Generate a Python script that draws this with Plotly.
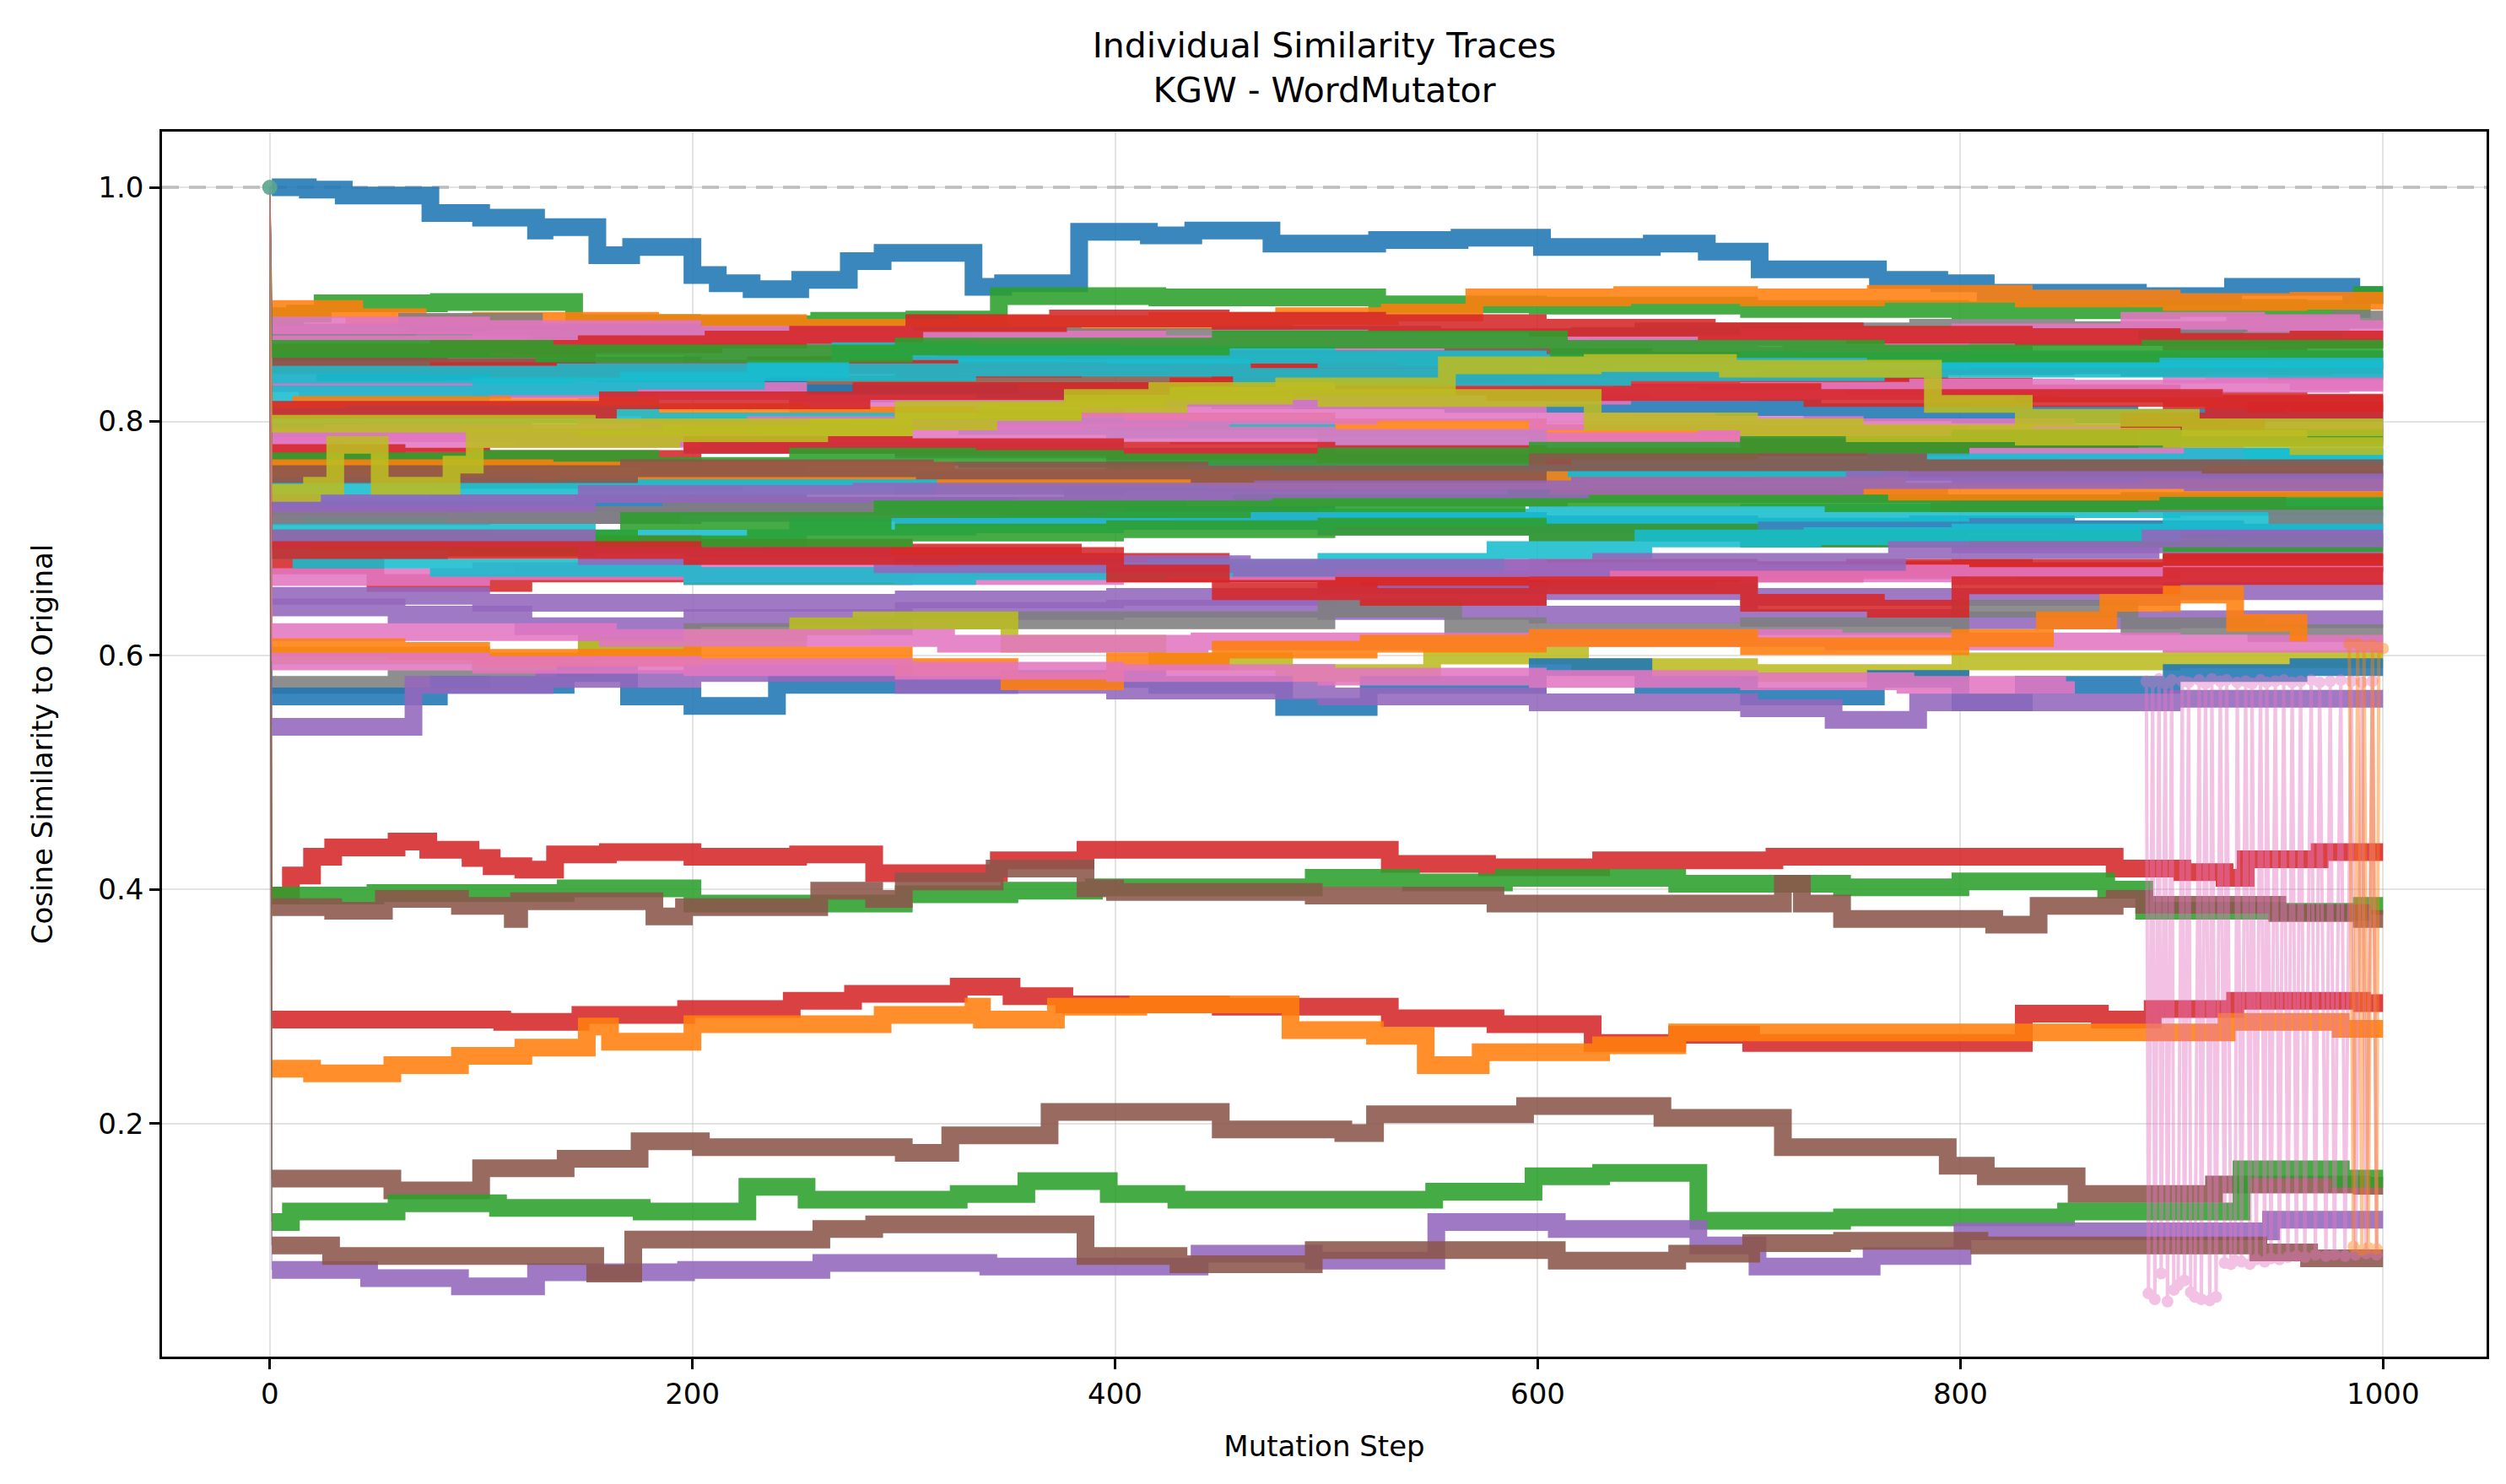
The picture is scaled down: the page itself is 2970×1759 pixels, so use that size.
import plotly.graph_objects as go

# tab10 colours, as matplotlib cycles them
blue, orange, green, red, purple = "#1f77b4", "#ff7f0e", "#2ca02c", "#d62728", "#9467bd"
brown, pink, gray, olive, cyan = "#8c564b", "#e377c2", "#7f7f7f", "#bcbd22", "#17becf"

start_step = 0
start_value = 1.0
last_step = 1000

# trace that stays closest to the original
top_steps = [1, 18, 35, 76, 100, 126, 130, 155, 171, 200, 212, 228, 251, 274, 290, 333, 347, 383,
             416, 437, 474, 524, 563, 602, 654, 680, 705, 761, 790, 812, 884, 929, 985]
top_values = [1.0, 0.998, 0.993, 0.978, 0.974, 0.963, 0.966, 0.942, 0.949, 0.925, 0.918, 0.913, 0.921,
              0.937, 0.944, 0.915, 0.918, 0.962, 0.959, 0.963, 0.952, 0.955, 0.957, 0.949, 0.952, 0.945,
              0.93, 0.921, 0.918, 0.91, 0.907, 0.915, 0.908]

# the nine texts that fall far below the rest
low_colors = [red, green, brown, red, orange, brown, green, purple, brown]
low_steps = [
    [1, 10, 20, 30, 60, 75, 95, 105, 120, 135, 160, 200, 250, 286, 345, 386, 530, 576, 630, 712, 873, 905, 925, 935, 970],
    [1, 50, 140, 200, 240, 300, 350, 390, 494, 540, 584, 666, 744, 800, 869, 887, 950, 990],
    [1, 30, 54, 90, 115, 118, 182, 196, 260, 286, 300, 343, 386, 400, 494, 580, 716, 725, 744, 816, 837, 873, 887, 950, 990],
    [1, 110, 147, 197, 247, 276, 326, 351, 376, 450, 530, 580, 626, 666, 701, 830, 866, 891, 930, 990],
    [1, 20, 58, 90, 120, 150, 161, 200, 290, 333, 337, 372, 411, 483, 523, 547, 573, 630, 666, 926, 980],
    [1, 58, 100, 140, 175, 204, 300, 322, 369, 450, 508, 523, 594, 659, 716, 794, 812, 855, 920, 990],
    [1, 10, 60, 108, 176, 226, 254, 326, 358, 397, 429, 551, 598, 630, 676, 744, 850, 933, 980],
    [1, 47, 90, 126, 197, 261, 340, 440, 494, 552, 609, 676, 704, 758, 801, 947],
    [1, 29, 154, 172, 261, 286, 386, 430, 494, 609, 666, 701, 744, 809, 941, 965],
]
low_values = [
    [0.395, 0.412, 0.428, 0.436, 0.441, 0.434, 0.427, 0.42, 0.417, 0.43, 0.432, 0.428, 0.43, 0.414, 0.425,
     0.434, 0.422, 0.419, 0.425, 0.428, 0.418, 0.415, 0.41, 0.426, 0.432],
    [0.395, 0.397, 0.401, 0.388, 0.388, 0.396, 0.399, 0.402, 0.41, 0.406, 0.41, 0.405, 0.402, 0.407, 0.40,
     0.382, 0.381, 0.386],
    [0.385, 0.382, 0.392, 0.386, 0.375, 0.39, 0.377, 0.385, 0.399, 0.392, 0.407, 0.418, 0.401, 0.398, 0.395,
     0.388, 0.405, 0.388, 0.375, 0.37, 0.386, 0.392, 0.387, 0.38, 0.375],
    [0.289, 0.287, 0.293, 0.298, 0.305, 0.311, 0.317, 0.309, 0.302, 0.30, 0.29, 0.285, 0.269, 0.276, 0.269,
     0.294, 0.289, 0.298, 0.305, 0.303],
    [0.247, 0.243, 0.25, 0.258, 0.265, 0.283, 0.27, 0.285, 0.293, 0.30, 0.289, 0.30, 0.302, 0.28, 0.275,
     0.25, 0.261, 0.267, 0.278, 0.287, 0.281],
    [0.153, 0.143, 0.162, 0.17, 0.185, 0.18, 0.175, 0.19, 0.21, 0.195, 0.192, 0.208, 0.215, 0.205, 0.18,
     0.164, 0.155, 0.14, 0.148, 0.147],
    [0.116, 0.125, 0.132, 0.128, 0.125, 0.146, 0.135, 0.14, 0.151, 0.14, 0.135, 0.142, 0.155, 0.158, 0.117,
     0.12, 0.125, 0.161, 0.153],
    [0.075, 0.068, 0.061, 0.073, 0.075, 0.081, 0.078, 0.089, 0.083, 0.116, 0.11, 0.096, 0.078, 0.087, 0.108, 0.118],
    [0.096, 0.087, 0.072, 0.101, 0.11, 0.114, 0.087, 0.08, 0.092, 0.083, 0.089, 0.098, 0.1, 0.096, 0.09, 0.085],
]

# the dense band between ~0.55 and ~0.91
band_colors = [green, orange, gray, gray, pink, pink, red, brown, brown, red,
               blue, pink, cyan, orange, cyan, purple, pink, pink, red, green,
               gray, blue, purple, cyan, red, green, red, pink, cyan, purple,
               purple, gray, olive, blue, purple, gray, cyan, green, orange, red,
               cyan, brown, purple, green, pink, purple, red, olive, olive]
band_steps = [
    [1, 12, 25, 80, 144, 200, 260, 305, 345, 420, 524, 600, 700, 800, 900, 960, 990],
    [1, 40, 70, 100, 180, 250, 330, 420, 480, 530, 570, 640, 700, 760, 830, 900, 960],
    [1, 60, 150, 230, 300, 380, 450, 550, 650, 780, 850, 930, 980],
    [1, 65, 125, 200, 300, 420, 520, 620, 720, 830, 950],
    [1, 100, 200, 300, 420, 500, 600, 700, 800, 880, 940, 985],
    [1, 120, 200, 300, 450, 540, 620, 700, 800, 900, 960],
    [1, 80, 150, 210, 250, 305, 373, 450, 524, 600, 680, 750, 830, 900, 960],
    [1, 100, 200, 260, 320, 440, 560, 650, 720, 800, 880, 950],
    [1, 70, 150, 250, 350, 430, 500, 600, 700, 790, 850, 950],
    [1, 80, 150, 230, 300, 380, 450, 530, 600, 680, 750, 830, 900, 960],
    [1, 100, 180, 250, 350, 450, 560, 650, 730, 800, 880, 950],
    [1, 18, 150, 250, 330, 400, 480, 550, 640, 700, 780, 850, 920, 980],
    [1, 100, 170, 230, 270, 330, 400, 500, 600, 700, 800, 900],
    [1, 15, 110, 180, 250, 330, 400, 500, 600, 700, 800, 900],
    [1, 40, 100, 180, 250, 330, 400, 500, 600, 700, 800, 900],
    [1, 120, 200, 300, 400, 500, 600, 700, 800, 900],
    [1, 30, 150, 230, 300, 380, 450, 520, 600, 680, 750, 850, 930],
    [1, 60, 100, 200, 270, 350, 430, 500, 600, 700, 780, 850, 930],
    [1, 60, 100, 200, 300, 400, 500, 600, 700, 800, 880, 940],
    [1, 100, 180, 250, 330, 400, 500, 600, 700, 800, 900],
    [1, 80, 150, 220, 300, 400, 500, 600, 700, 800, 900],
    [1, 80, 150, 250, 350, 430, 500, 600, 700, 780, 850, 930],
    [1, 100, 200, 300, 400, 500, 600, 700, 800, 900],
    [1, 20, 80, 150, 250, 330, 400, 500, 600, 700, 800, 900],
    [1, 100, 200, 300, 380, 450, 520, 600, 700, 800, 900],
    [1, 80, 150, 230, 300, 400, 500, 600, 700, 800, 900],
    [1, 50, 120, 200, 300, 400, 500, 600, 680, 750, 830, 900],
    [1, 100, 200, 300, 400, 500, 600, 700, 800, 900],
    [1, 15, 80, 200, 330, 420, 500, 580, 650, 730, 800, 900],
    [1, 100, 200, 300, 400, 500, 600, 700, 800, 900],
    [1, 60, 120, 200, 300, 400, 500, 600, 700, 800, 900],
    [1, 60, 100, 150, 200, 250, 300, 400, 500, 560, 600, 700, 800, 880, 940],
    [1, 100, 150, 200, 250, 280, 350, 420, 480, 550, 620, 700, 800, 900],
    [1, 80, 140, 170, 200, 240, 350, 420, 480, 520, 600, 650, 700, 760, 800, 830, 900, 960],
    [1, 68, 130, 200, 300, 400, 500, 600, 700, 740, 780, 900],
    [1, 190, 380, 610, 790, 950],
    [1, 140, 310, 440, 620, 760, 910],
    [1, 170, 290, 460, 590, 740, 880],
    [1, 130, 320, 470, 610, 770, 890],
    [1, 160, 280, 430, 580, 730, 920],
    [1, 140, 330, 460, 640, 760, 880],
    [1, 170, 310, 440, 600, 780, 900],
    [1, 150, 280, 470, 620, 750, 910],
    [1, 130, 300, 450, 610, 760, 890],
    [1, 160, 320, 440, 600, 740, 900],
    [1, 150, 290, 460, 630, 770, 890],
    [1, 200, 400, 450, 520, 600, 700, 760, 800, 900],
    [1, 20, 31, 52, 86, 97, 190, 260, 300, 340, 380, 430, 480, 557, 626, 690, 787, 830, 909],
    [1, 150, 300, 380, 420, 500, 626, 700, 750, 830, 900, 960],
]
band_values = [
    [0.89, 0.892, 0.901, 0.902, 0.884, 0.883, 0.886, 0.887, 0.907, 0.906, 0.90, 0.899, 0.896, 0.895, 0.897, 0.896, 0.908],
    [0.896, 0.889, 0.884, 0.886, 0.884, 0.88, 0.883, 0.886, 0.89, 0.893, 0.906, 0.908, 0.906, 0.909, 0.905, 0.902, 0.903],
    [0.876, 0.874, 0.872, 0.87, 0.873, 0.872, 0.874, 0.872, 0.877, 0.88, 0.878, 0.884, 0.887],
    [0.868, 0.885, 0.876, 0.873, 0.868, 0.865, 0.868, 0.873, 0.868, 0.872, 0.87],
    [0.882, 0.879, 0.874, 0.87, 0.866, 0.868, 0.866, 0.872, 0.876, 0.886, 0.884, 0.879],
    [0.866, 0.864, 0.858, 0.861, 0.868, 0.864, 0.86, 0.856, 0.852, 0.84, 0.834],
    [0.859, 0.862, 0.866, 0.87, 0.874, 0.884, 0.888, 0.886, 0.884, 0.88, 0.877, 0.874, 0.872, 0.868, 0.87],
    [0.852, 0.848, 0.845, 0.848, 0.852, 0.853, 0.855, 0.852, 0.85, 0.848, 0.846, 0.852],
    [0.85, 0.846, 0.838, 0.832, 0.835, 0.838, 0.84, 0.845, 0.842, 0.847, 0.85, 0.843],
    [0.84, 0.843, 0.842, 0.848, 0.845, 0.847, 0.843, 0.84, 0.838, 0.834, 0.83, 0.824, 0.818, 0.816],
    [0.833, 0.828, 0.83, 0.824, 0.82, 0.818, 0.815, 0.812, 0.808, 0.806, 0.803, 0.80],
    [0.833, 0.827, 0.826, 0.815, 0.812, 0.818, 0.82, 0.822, 0.825, 0.826, 0.829, 0.828, 0.832, 0.833],
    [0.823, 0.83, 0.835, 0.845, 0.86, 0.858, 0.857, 0.853, 0.85, 0.852, 0.853, 0.853],
    [0.808, 0.814, 0.812, 0.808, 0.805, 0.802, 0.80, 0.795, 0.79, 0.789, 0.786, 0.79],
    [0.804, 0.806, 0.806, 0.80, 0.80, 0.796, 0.793, 0.785, 0.775, 0.772, 0.77, 0.77],
    [0.791, 0.786, 0.78, 0.776, 0.77, 0.765, 0.76, 0.757, 0.753, 0.751],
    [0.786, 0.79, 0.793, 0.797, 0.80, 0.803, 0.805, 0.808, 0.80, 0.797, 0.795, 0.79, 0.792],
    [0.779, 0.782, 0.785, 0.792, 0.79, 0.79, 0.788, 0.786, 0.783, 0.78, 0.776, 0.772, 0.788],
    [0.773, 0.77, 0.768, 0.78, 0.778, 0.775, 0.772, 0.77, 0.778, 0.785, 0.80, 0.809],
    [0.766, 0.768, 0.762, 0.77, 0.768, 0.765, 0.77, 0.775, 0.78, 0.785, 0.786],
    [0.754, 0.75, 0.748, 0.752, 0.745, 0.748, 0.752, 0.756, 0.76, 0.757, 0.758],
    [0.727, 0.73, 0.73, 0.728, 0.725, 0.72, 0.715, 0.712, 0.71, 0.712, 0.708, 0.705],
    [0.719, 0.72, 0.722, 0.718, 0.715, 0.71, 0.705, 0.70, 0.695, 0.69],
    [0.706, 0.71, 0.705, 0.70, 0.71, 0.712, 0.715, 0.718, 0.72, 0.722, 0.725, 0.727],
    [0.699, 0.695, 0.692, 0.688, 0.68, 0.67, 0.665, 0.675, 0.673, 0.675, 0.679],
    [0.69, 0.692, 0.695, 0.70, 0.705, 0.708, 0.71, 0.705, 0.70, 0.70, 0.696],
    [0.677, 0.662, 0.67, 0.668, 0.675, 0.67, 0.66, 0.665, 0.67, 0.675, 0.672, 0.68],
    [0.667, 0.672, 0.67, 0.668, 0.672, 0.675, 0.672, 0.67, 0.668, 0.669],
    [0.69, 0.682, 0.675, 0.668, 0.672, 0.675, 0.68, 0.69, 0.70, 0.702, 0.705, 0.715],
    [0.651, 0.645, 0.645, 0.648, 0.65, 0.652, 0.655, 0.65, 0.65, 0.655],
    [0.641, 0.635, 0.625, 0.632, 0.638, 0.64, 0.638, 0.635, 0.632, 0.63, 0.631],
    [0.575, 0.58, 0.59, 0.61, 0.62, 0.625, 0.63, 0.63, 0.64, 0.625, 0.62, 0.625, 0.64, 0.625, 0.619],
    [0.60, 0.595, 0.605, 0.615, 0.625, 0.63, 0.61, 0.595, 0.585, 0.60, 0.59, 0.585, 0.595, 0.597],
    [0.565, 0.575, 0.585, 0.565, 0.557, 0.575, 0.58, 0.575, 0.556, 0.575, 0.59, 0.575, 0.565, 0.58, 0.56,
     0.575, 0.585, 0.59],
    [0.539, 0.575, 0.58, 0.585, 0.575, 0.57, 0.565, 0.56, 0.555, 0.545, 0.56, 0.563],
    [0.72, 0.728, 0.735, 0.738, 0.73, 0.72],
    [0.74, 0.745, 0.75, 0.755, 0.76, 0.765, 0.77],
    [0.70, 0.715, 0.725, 0.73, 0.735, 0.73, 0.732],
    [0.76, 0.758, 0.752, 0.75, 0.745, 0.74, 0.743],
    [0.81, 0.818, 0.826, 0.83, 0.825, 0.82, 0.815],
    [0.84, 0.842, 0.846, 0.838, 0.842, 0.845, 0.845],
    [0.755, 0.76, 0.758, 0.755, 0.765, 0.76, 0.76],
    [0.73, 0.738, 0.74, 0.742, 0.745, 0.75, 0.748],
    [0.862, 0.858, 0.864, 0.87, 0.862, 0.858, 0.862],
    [0.62, 0.615, 0.61, 0.612, 0.615, 0.612, 0.61],
    [0.70, 0.685, 0.678, 0.675, 0.68, 0.69, 0.70],
    [0.69, 0.685, 0.67, 0.655, 0.65, 0.66, 0.645, 0.64, 0.66, 0.668],
    [0.739, 0.745, 0.78, 0.745, 0.763, 0.785, 0.79, 0.795, 0.80, 0.808, 0.815, 0.822, 0.83, 0.848, 0.85,
     0.845, 0.815, 0.803, 0.795],
    [0.798, 0.795, 0.81, 0.82, 0.826, 0.82, 0.80, 0.795, 0.79, 0.787, 0.785, 0.779],
]

# two traces that flicker at the end of the run
pink_steps = [1, 100, 200, 300, 400, 500, 600, 700, 774, 850]
pink_values = [0.595, 0.592, 0.59, 0.587, 0.585, 0.582, 0.58, 0.578, 0.575, 0.578]
pink_tail_steps = [888, 889, 891, 892, 894, 895, 897, 898, 900, 901, 903, 905, 906, 908, 909, 911, 913, 914,
                   916, 918, 919, 921, 923, 925, 926, 928, 930, 931, 933, 935, 937, 938, 940, 942, 944, 945,
                   947, 949, 951, 953, 955, 957, 959, 961, 963, 966, 968, 970, 973, 975, 977, 980, 982, 985,
                   987, 990, 992, 995, 997]
pink_tail_values = [0.578, 0.055, 0.577, 0.05, 0.58, 0.072, 0.576, 0.048, 0.579, 0.058, 0.062, 0.578, 0.066,
                    0.577, 0.056, 0.052, 0.579, 0.05, 0.576, 0.049, 0.58, 0.052, 0.578, 0.081, 0.579, 0.08,
                    0.083, 0.577, 0.082, 0.578, 0.08, 0.576, 0.084, 0.579, 0.082, 0.577, 0.085, 0.578, 0.084,
                    0.579, 0.086, 0.577, 0.087, 0.578, 0.086, 0.579, 0.088, 0.577, 0.087, 0.578, 0.088, 0.579,
                    0.087, 0.578, 0.088, 0.577, 0.089, 0.578, 0.088]

orange_steps = [1, 60, 100, 200, 300, 350, 400, 450, 520, 600, 700, 800, 840, 870, 900, 930, 960]
orange_values = [0.607, 0.604, 0.598, 0.60, 0.59, 0.578, 0.595, 0.605, 0.61, 0.615, 0.608, 0.615, 0.63,
                 0.645, 0.652, 0.628, 0.612]
orange_tail_steps = [984, 986, 988, 990, 991, 993, 995, 997, 998, 1000]
orange_tail_values = [0.61, 0.095, 0.61, 0.092, 0.608, 0.094, 0.609, 0.093, 0.607, 0.606]

band_width = 21

fig = go.Figure()


def add_series(steps, values, color, extend=True):
    xs = list(steps)
    ys = list(values)
    if extend and xs[-1] < last_step:
        xs.append(last_step)
        ys.append(ys[-1])
    # thin jump from the shared starting point
    fig.add_trace(go.Scatter(x=[start_step, xs[0]], y=[start_value, ys[0]], mode="lines",
                             line=dict(color=color, width=1.5), opacity=0.5, hoverinfo="skip"))
    fig.add_trace(go.Scatter(x=xs, y=ys, mode="lines",
                             line=dict(color=color, width=band_width, shape="hv"), opacity=0.88))


add_series(top_steps, top_values, blue)
for c, s, v in zip(low_colors[:5], low_steps[:5], low_values[:5]):
    add_series(s, v, c)
for c, s, v in zip(band_colors, band_steps, band_values):
    add_series(s, v, c)
for c, s, v in zip(low_colors[5:], low_steps[5:], low_values[5:]):
    add_series(s, v, c)

add_series(orange_steps, orange_values, orange, extend=False)
add_series(pink_steps, pink_values, pink, extend=False)

fig.add_trace(go.Scatter(x=pink_tail_steps, y=pink_tail_values, mode="lines+markers",
                         line=dict(color=pink, width=4), marker=dict(color=pink, size=14),
                         opacity=0.45))
fig.add_trace(go.Scatter(x=orange_tail_steps, y=orange_tail_values, mode="lines+markers",
                         line=dict(color=orange, width=4), marker=dict(color=orange, size=14),
                         opacity=0.45))

# everything starts at the original text
fig.add_trace(go.Scatter(x=[start_step], y=[start_value], mode="markers",
                         marker=dict(color="#5aa58f", size=18), opacity=0.9))

fig.add_shape(type="line", xref="paper", x0=0, x1=1, yref="y", y0=1.0, y1=1.0,
              line=dict(color="rgba(128,128,128,0.45)", width=4, dash="20px,12px"), layer="below")

axis_font = dict(family="DejaVu Sans", size=34, color="black")
fig.update_layout(
    width=2970, height=1759,
    margin=dict(l=184, r=31, t=148, b=159),
    plot_bgcolor="white", paper_bgcolor="white",
    showlegend=False,
    font=axis_font,
    title=dict(text="Individual Similarity Traces<br>KGW - WordMutator", x=0.5, xref="paper",
               y=0.966, yref="container", yanchor="middle",
               font=dict(family="DejaVu Sans", size=41, color="black")),
)
fig.update_xaxes(range=[-51, 1049], tickvals=[0, 200, 400, 600, 800, 1000],
                 showgrid=True, gridcolor="rgba(176,176,176,0.35)", gridwidth=2, zeroline=False,
                 showline=True, linecolor="black", linewidth=2.5, mirror=True,
                 ticks="outside", ticklen=12, tickwidth=2.5, tickcolor="black",
                 title=dict(text="Mutation Step", standoff=32, font=axis_font), tickfont=axis_font)
fig.update_yaxes(range=[0.001, 1.0476], tickvals=[0.2, 0.4, 0.6, 0.8, 1.0], ticktext=["0.2", "0.4", "0.6", "0.8", "1.0"],
                 showgrid=True, gridcolor="rgba(176,176,176,0.35)", gridwidth=2, zeroline=False,
                 showline=True, linecolor="black", linewidth=2.5, mirror=True,
                 ticks="outside", ticklen=12, tickwidth=2.5, tickcolor="black",
                 title=dict(text="Cosine Similarity to Original", standoff=44, font=axis_font), tickfont=axis_font)

fig.write_html("out.html")
